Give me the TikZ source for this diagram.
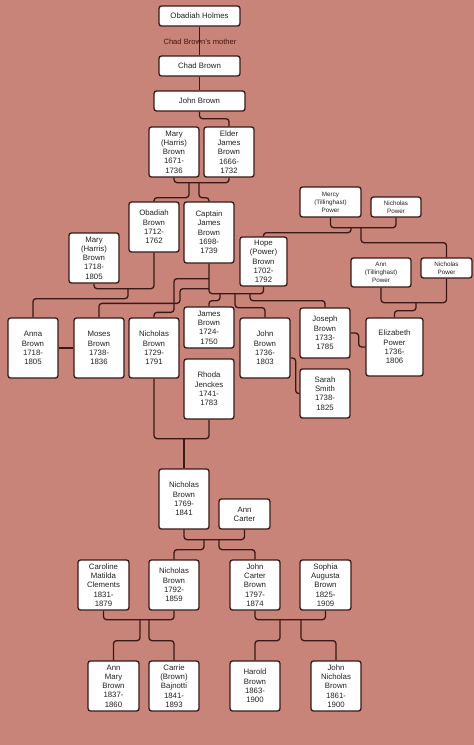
\documentclass[tikz,border=0pt]{standalone}
\usepackage{fontspec}
\setmainfont{Liberation Sans}
\usetikzlibrary{calc}
\definecolor{bgc}{RGB}{200,132,121}
\definecolor{linec}{RGB}{58,24,22}
\definecolor{txtc}{RGB}{34,34,34}
\definecolor{lblc}{RGB}{70,20,18}
\begin{document}
\begin{tikzpicture}[x=1pt,y=-1pt,
  box/.style={draw=linec,fill=white,line width=1.3pt,rounded corners=2.5pt,inner sep=0pt,align=center,text=txtc,font=\fontsize{7.8}{9.3}\selectfont},
  smallbox/.style={box,font=\fontsize{6.3}{8}\selectfont},
  conn/.style={draw=linec,line width=1.3pt,rounded corners=3pt},
  bw/.style={minimum width=#1pt},
  bh/.style={minimum height=#1pt}]
\fill[bgc] (0,0) rectangle (474,745);
\useasboundingbox (0,0) rectangle (474,745);

% nodes
\node[box,bw=81,bh=20] (oh) at (199.5,16) {Obadiah Holmes};
\node[box,bw=81,bh=20] (chad) at (199.5,66) {Chad Brown};
\node[box,bw=91,bh=20] (john) at (199.5,101) {John Brown};
\node[box,bw=50,bh=50] (mary1) at (174,152) {Mary\\(Harris)\\Brown\\1671-\\1736};
\node[box,bw=50,bh=50] (elder) at (229,152) {Elder\\James\\Brown\\1666-\\1732};
\node[box,bw=50,bh=50] (obadiah) at (154,227) {Obadiah\\Brown\\1712-\\1762};
\node[box,bw=50,bh=61] (capt) at (209,232.5) {Captain\\James\\Brown\\1698-\\1739};
\node[box,bw=47,bh=49] (hope) at (263.5,261.5) {Hope\\(Power)\\Brown\\1702-\\1792};
\node[smallbox,bw=61,bh=30] (mercy) at (330.5,202) {Mercy\\(Tillinghast)\\Power};
\node[smallbox,bw=50,bh=20] (np1) at (396,207) {Nicholas\\Power};
\node[smallbox,bw=60,bh=29] (ann1) at (381,272.5) {Ann\\(Tillinghast)\\Power};
\node[smallbox,bw=51,bh=20] (np2) at (446.5,268) {Nicholas\\Power};
\node[box,bw=50,bh=50] (mary2) at (94,258) {Mary\\(Harris)\\Brown\\1718-\\1805};
\node[box,bw=50,bh=60] (anna) at (33,348) {Anna\\Brown\\1718-\\1805};
\node[box,bw=50,bh=60] (moses) at (99,348) {Moses\\Brown\\1738-\\1836};
\node[box,bw=50,bh=60] (nich1) at (154,348) {Nicholas\\Brown\\1729-\\1791};
\node[box,bw=50,bh=41] (james2) at (209,327.5) {James\\Brown\\1724-\\1750};
\node[box,bw=50,bh=60] (rhoda) at (209,389) {Rhoda\\Jenckes\\1741-\\1783};
\node[box,bw=50,bh=60] (john2) at (265,348) {John\\Brown\\1736-\\1803};
\node[box,bw=50,bh=50] (joseph) at (325,333) {Joseph\\Brown\\1733-\\1785};
\node[box,bw=50,bh=49] (sarah) at (325,393.5) {Sarah\\Smith\\1738-\\1825};
\node[box,bw=57,bh=58] (eliz) at (394.5,347) {Elizabeth\\Power\\1736-\\1806};
\node[box,bw=50,bh=60] (nich2) at (184,499) {Nicholas\\Brown\\1769-\\1841};
\node[box,bw=51,bh=30] (anncarter) at (244.5,514) {Ann\\Carter};
\node[box,bw=51,bh=50] (caroline) at (103.5,585) {Caroline\\Matilda\\Clements\\1831-\\1879};
\node[box,bw=50,bh=50] (nich3) at (174,585) {Nicholas\\Brown\\1792-\\1859};
\node[box,bw=50,bh=50] (jcb) at (255,585) {John\\Carter\\Brown\\1797-\\1874};
\node[box,bw=51,bh=50] (sophia) at (325.5,585) {Sophia\\Augusta\\Brown\\1825-\\1909};
\node[box,bw=51,bh=50] (annmary) at (113.5,686) {Ann\\Mary\\Brown\\1837-\\1860};
\node[box,bw=50,bh=50] (carrie) at (174,686) {Carrie\\(Brown)\\Bajnotti\\1841-\\1893};
\node[box,bw=50,bh=50] (harold) at (255,686) {Harold\\Brown\\1863-\\1900};
\node[box,bw=50,bh=50] (jnb) at (336,686) {John\\Nicholas\\Brown\\1861-\\1900};

% connectors
\begin{scope}[on background layer/.style={}]
\draw[conn] (oh.south) -- (chad.north);
\node[text=lblc,font=\fontsize{7.6}{9}\selectfont] (lbl) at (200,42) {Chad Brown's mother};
\draw[conn] (chad.south) -- (john.north);
\draw[conn] (john.south) -- ++(0,7) -| (elder.north);
\draw[conn] (mary1.south) -- ++(0,5) -| (elder.south);
\draw[conn] ($(mary1.south)+(15,5)$) -- ++(0,15) -| (obadiah.north);
\draw[conn] ($(mary1.south)+(25,5)$) -- ++(0,15) -| (capt.north);
\draw[conn] (mercy.south) -- ++(0,10) -| (np1.south);
\draw[conn] ($(mercy.south)+(20.5,10)$) -- ++(0,5) -| (hope.north);
\draw[conn] ($(mercy.south)+(30.5,10)$) -- ++(0,15) -| (np2.north);
\draw[conn] (ann1.south) -- ++(0,15) -| (np2.south);
\draw[conn] ($(ann1.south)+(35,15)$) -- ++(0,8) -| (eliz.north);
\draw[conn] (joseph.east) -- ++(8,0) |- (eliz.west);
\draw[conn] ($(john2.east)+(0,10)$) -- ++(5,0) |- (sarah.west);
\draw[conn] (capt.south) -- ++(0,30) -| (hope.south);
\draw[conn] ($(capt.south)+(11,30)$) -- ++(0,7) -| (james2.north);
\draw[conn] ($(capt.south)+(26,30)$) -- ++(0,14) -| (john2.north);
\draw[conn] ($(capt.south)+(41,30)$) -- ++(0,7) -| (joseph.north);
\draw[conn] ($(capt.south)+(0,15)$) -- ++(-35,0) |- ($(nich1.north)+(0,-5)$) -- (nich1.north);
\draw[conn] ($(capt.south)+(0,25)$) -- ++(-29,0) |- ($(moses.north)+(0,-14)$) -- (moses.north);
\draw[conn] (mary2.south) -- ++(0,5) -| (obadiah.south);
\draw[conn] ($(mary2.south)+(34,5)$) -- ++(0,10) -| (anna.north);
\draw[conn] (anna.east) -- (moses.west);
\draw[conn] (nich1.south) -- ++(0,60) -| (rhoda.south);
\draw[conn] ($(nich1.south)+(30,60)$) -- (nich2.north);
\draw[conn] (nich2.south) -- ++(0,10) -| (anncarter.south);
\draw[conn] ($(nich2.south)+(20,10)$) -- ++(0,10) -| (nich3.north);
\draw[conn] ($(nich2.south)+(35,10)$) -- ++(0,10) -| (jcb.north);
\draw[conn] (caroline.south) -- ++(0,9) -| (nich3.south);
\draw[conn] ($(caroline.south)+(36.5,9)$) -- ++(0,21) -| (annmary.north);
\draw[conn] ($(caroline.south)+(45.5,9)$) -- ++(0,21) -| (carrie.north);
\draw[conn] (jcb.south) -- ++(0,9) -| (sophia.south);
\draw[conn] ($(jcb.south)+(25,9)$) -- ++(0,21) -| (harold.north);
\draw[conn] ($(jcb.south)+(46,9)$) -- ++(0,21) -| (jnb.north);
\end{scope}
\end{tikzpicture}
\end{document}
